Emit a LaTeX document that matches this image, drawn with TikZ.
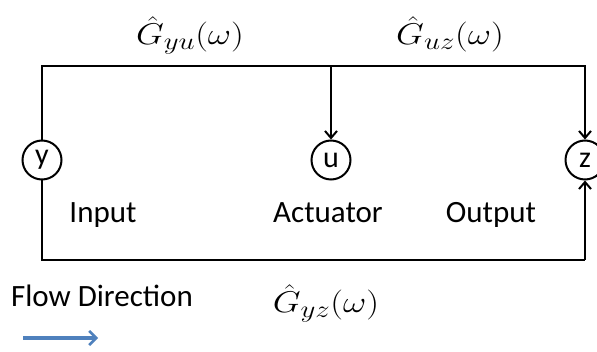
\RequirePackage{fix-cm}
\documentclass[tikz,border=0pt]{standalone}
\usepackage{fontspec}
\setmainfont{Carlito}
\usepackage{graphicx}
\usetikzlibrary{arrows.meta}
\DeclareMathSizes{30}{30}{24}{20}
\newcommand{\gmath}[1]{\scalebox{1.2}[1.0]{\fontsize{30}{36}\selectfont$#1$}}
\begin{document}
\begin{tikzpicture}[x=1pt,y=-1pt,
  wire/.style={line width=2.5pt},
  arr/.style={wire,-{Straight Barb[length=7pt,width=12pt,line width=2pt]}},
  state/.style={circle,draw,line width=2pt,minimum size=39pt,inner sep=0pt,font=\fontsize{30}{34}\selectfont},
  lbl/.style={font=\fontsize{31}{36}\selectfont,anchor=base,inner sep=0pt},
  mlbl/.style={anchor=base,inner sep=0pt}]
\useasboundingbox (0,0) rectangle (597,352);
\node[state] (y) at (42,160) {y};
\node[state] (u) at (331,160) {u};
\node[state] (z) at (585,160) {z};
\coordinate (tl) at (42,66);
\coordinate (tu) at (331,66);
\coordinate (tr) at (585,66);
\coordinate (bl) at (42,260);
\coordinate (br) at (585,260);
\draw[wire,line cap=rect] (y.north) -- (tl) -- (tr);
\draw[arr] (tr) -- (z.north);
\draw[arr] (tu) -- (u.north);
\draw[wire] (y.south) -- (bl) -- (br);
\draw[arr] (br) -- (z.south);
\node[mlbl] (gyu) at (190,45) {\gmath{\hat{G}_{yu}(\omega)}};
\node[mlbl] (guz) at (450,45) {\gmath{\hat{G}_{uz}(\omega)}};
\node[mlbl] (gyz) at (326,313) {\gmath{\hat{G}_{yz}(\omega)}};
\node[lbl] (inp) at (103,223) {Input};
\node[lbl] (act) at (328,223) {Actuator};
\node[lbl] (out) at (491,223) {Output};
\node[lbl] (flow) at (102,307) {Flow Direction};
\coordinate (fa) at (23,338);
\coordinate (fb) at (98,338);
\draw[line width=3.2pt,color={rgb,255:red,79;green,129;blue,189},-{Straight Barb[length=7pt,width=14pt,line width=2.6pt]}] (fa) -- (fb);
\end{tikzpicture}
\end{document}
